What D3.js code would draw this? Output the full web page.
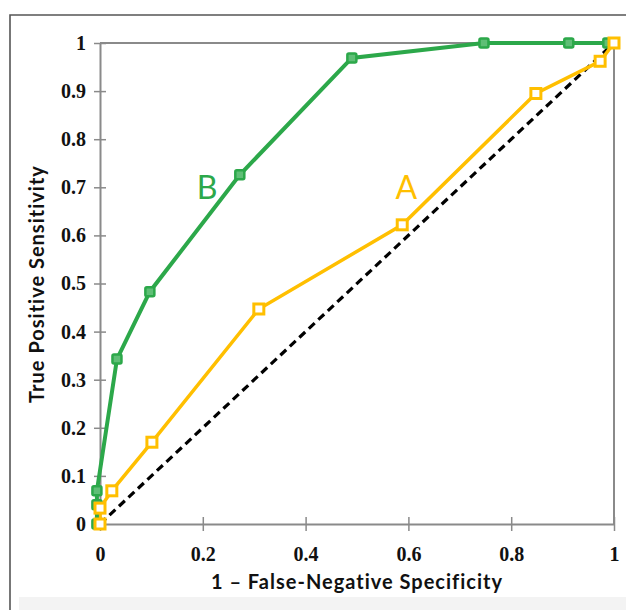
<!DOCTYPE html>
<html>
<head>
<meta charset="utf-8">
<script src="https://cdn.jsdelivr.net/npm/d3@7"></script>
<style>
  html, body { margin: 0; padding: 0; background: #fff; }
  svg { display: block; }
</style>
</head>
<body>
<script>
// ---- data ----
const xTicks = [0, 0.2, 0.4, 0.6, 0.8, 1];
const xTickLabels = ["0", "0.2", "0.4", "0.6", "0.8", "1"];
const yTicks = [0, 0.1, 0.2, 0.3, 0.4, 0.5, 0.6, 0.7, 0.8, 0.9, 1];
const yTickLabels = ["0", "0.1", "0.2", "0.3", "0.4", "0.5", "0.6", "0.7", "0.8", "0.9", "1"];

const seriesB_x = [-0.006, -0.006, -0.006, 0.033, 0.097, 0.272, 0.490, 0.747, 0.912, 0.988];
const seriesB_y = [0, 0.040, 0.069, 0.343, 0.483, 0.726, 0.969, 1, 1, 1];
const seriesA_x = [0, 0, 0.023, 0.101, 0.309, 0.588, 0.848, 0.973, 1];
const seriesA_y = [0, 0.033, 0.069, 0.170, 0.447, 0.622, 0.895, 0.962, 1];
const diagonal_x = [0, 1];
const diagonal_y = [0, 1];

const labelB = { text: "B", x: 0.188, y: 0.675 };
const labelA = { text: "A", x: 0.575, y: 0.675 };
const xTitle = "1 \u2013 False-Negative Specificity";
const yTitle = "True Positive Sensitivity";

// ---- layout ----
const W = 626, H = 610;
const plot = { left: 100, right: 614, top: 43, bottom: 524 };
const green = "#2ca84a", gold = "#ffbf00", axisGray = "#8a8a8a";

const svg = d3.select("body").append("svg").attr("width", W).attr("height", H);

// outer frame and bottom band
svg.append("rect").attr("x", 19).attr("y", 597).attr("width", W - 19).attr("height", H - 597).attr("fill", "#f3f3f3");
svg.append("path").attr("d", `M10,${H} L10,15 L${W},15`).attr("fill", "none").attr("stroke", "#555").attr("stroke-width", 1.6);

const x = d3.scaleLinear().domain([0, 1]).range([plot.left, plot.right]);
const y = d3.scaleLinear().domain([0, 1]).range([plot.bottom, plot.top]);

// plot frame top/right
svg.append("path")
  .attr("d", `M${x(0)},${y(1)} L${x(1)},${y(1)} L${x(1)},${y(0)}`)
  .attr("fill", "none").attr("stroke", axisGray).attr("stroke-width", 2);

// axes
const xAxis = d3.axisBottom(x).tickValues(xTicks).tickFormat((d, i) => xTickLabels[i]).tickSizeInner(14).tickSizeOuter(0).tickPadding(16);
const gx = svg.append("g").attr("transform", `translate(0,${y(0) - 7})`).call(xAxis);
gx.select(".domain").attr("transform", "translate(0,7)");
const yAxis = d3.axisLeft(y).tickValues(yTicks).tickFormat((d, i) => yTickLabels[i]).tickSizeInner(12).tickSizeOuter(0).tickPadding(8);
const gy = svg.append("g").attr("transform", `translate(${x(0) + 6},0)`).call(yAxis);
gy.select(".domain").attr("transform", "translate(-6,0)");

[gx, gy].forEach(g => {
  g.select(".domain").attr("stroke", axisGray).attr("stroke-width", 2);
  g.selectAll(".tick line").attr("stroke", axisGray).attr("stroke-width", 1.5);
  g.selectAll(".tick text")
    .attr("fill", "#111")
    .style("font-family", "'Liberation Serif', 'Times New Roman', serif")
    .style("font-weight", "bold")
    .style("font-size", "20px");
});
gx.selectAll(".tick text").attr("dy", "0.71em");
gy.selectAll(".tick text").attr("x", -20);

// diagonal
const line = d3.line().x(d => x(d[0])).y(d => y(d[1]));
svg.append("path")
  .datum(d3.zip(diagonal_x, diagonal_y))
  .attr("d", line).attr("fill", "none")
  .attr("stroke", "#000").attr("stroke-width", 3.2).attr("stroke-dasharray", "8,5");

// series A (gold, hollow squares)
const dataA = d3.zip(seriesA_x, seriesA_y);
svg.append("path").datum(dataA).attr("d", line).attr("fill", "none")
  .attr("stroke", gold).attr("stroke-width", 3.5);

// series B (green)
const dataB = d3.zip(seriesB_x, seriesB_y);
svg.append("path").datum(dataB).attr("d", line).attr("fill", "none")
  .attr("stroke", green).attr("stroke-width", 4);
svg.append("g").selectAll("rect").data(dataB).join("rect")
  .attr("x", d => x(d[0]) - 4.5).attr("y", d => y(d[1]) - 4.5)
  .attr("width", 9).attr("height", 9).attr("rx", 1.5)
  .attr("fill", "#5fbf76").attr("stroke", green).attr("stroke-width", 2.5);

svg.append("g").selectAll("rect").data(dataA).join("rect")
  .attr("x", d => x(d[0]) - 5).attr("y", d => y(d[1]) - 5)
  .attr("width", 10).attr("height", 10)
  .attr("fill", "#fff").attr("stroke", gold).attr("stroke-width", 3);

// series labels
svg.append("text").attr("x", x(labelB.x)).attr("y", y(labelB.y)).text(labelB.text)
  .attr("fill", green).style("font-family", "Lato, 'Open Sans', sans-serif").style("font-size", "32px");
svg.append("text").attr("x", x(labelA.x)).attr("y", y(labelA.y)).text(labelA.text)
  .attr("fill", gold).style("font-family", "Lato, 'Open Sans', sans-serif").style("font-size", "32px");

// axis titles
svg.append("text").attr("x", 357).attr("y", 589).attr("text-anchor", "middle").text(xTitle)
  .attr("fill", "#111").style("font-family", "Lato, 'Open Sans', sans-serif").style("font-weight", "bold")
  .style("font-size", "20px").style("letter-spacing", "1px");
svg.append("text").attr("transform", "translate(44,284) rotate(-90)").attr("text-anchor", "middle").text(yTitle)
  .attr("fill", "#111").style("font-family", "Lato, 'Open Sans', sans-serif").style("font-weight", "bold")
  .style("font-size", "20px").style("letter-spacing", "1px");
</script>
</body>
</html>
